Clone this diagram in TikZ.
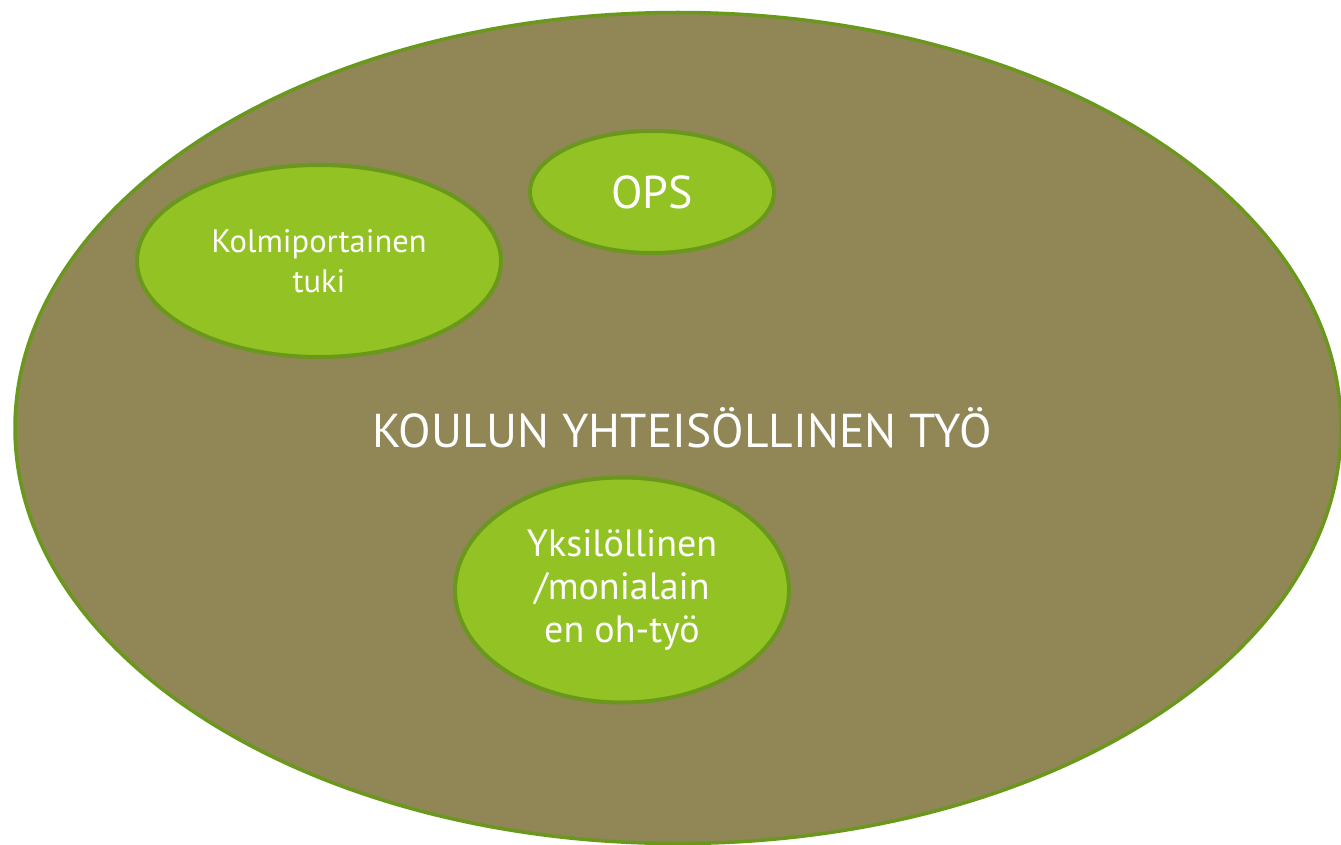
\documentclass[tikz,border=0pt]{standalone}
\usepackage{fontspec}
\setmainfont{PT Sans}
\usetikzlibrary{shapes.geometric}
\definecolor{olive}{HTML}{908656}
\definecolor{leaf}{HTML}{93C225}
\definecolor{rim}{HTML}{6A981C}
\begin{document}
\begin{tikzpicture}[x=1pt,y=-1pt,
        outer node/.style={ellipse,draw=rim,fill=olive,line width=3.5pt,inner sep=0pt,
            minimum width=1326pt,minimum height=831pt,text=white,
            font=\fontsize{47.5}{55}\selectfont},
        main node/.style={ellipse,draw=rim,fill=leaf,line width=4pt,inner sep=0pt,
            text=white,align=center}]
    \useasboundingbox (0,0) rectangle (1341,845);

    \node[outer node] (0) at (678,428) {\hspace*{8pt}KOULUN YHTEISÖLLINEN TYÖ};
    \node[main node,minimum width=364pt,minimum height=192pt,
        font=\fontsize{32.5}{40}\selectfont] (1) at (319,261) {Kolmiportainen\\tuki};
    \node[main node,minimum width=244pt,minimum height=122pt,
        font=\fontsize{46}{50}\selectfont] (2) at (652,192) {OPS};
    \node[main node,minimum width=334pt,minimum height=225pt,
        font=\fontsize{38}{43}\selectfont] (3) at (622,590) {Yksilöllinen\\/monialain\\en oh-työ};

\end{tikzpicture}
\end{document}
